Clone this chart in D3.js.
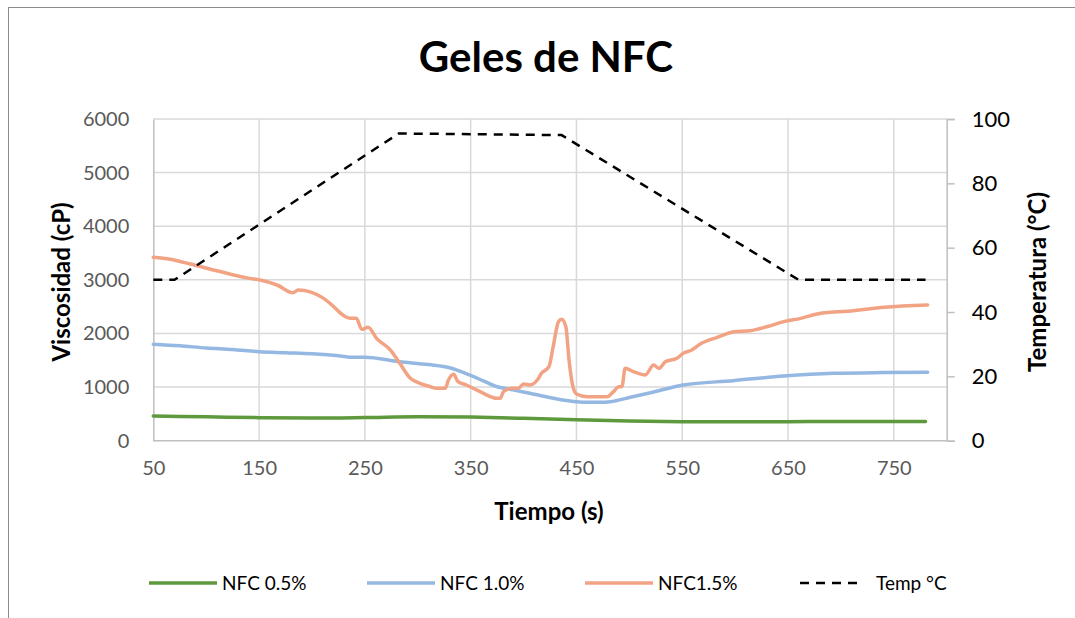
<!DOCTYPE html>
<html>
<head>
<meta charset="utf-8">
<script src="https://cdn.jsdelivr.net/npm/d3@7"></script>
<style>
  body { margin: 0; background: #fff; }
  svg { display: block; font-family: Lato, 'Open Sans', sans-serif; }
</style>
</head>
<body>
<svg id="chart" width="1075" height="618"></svg>
<script>
// NFC 0.5%
var t05 = [50, 100, 150, 200, 250, 300, 350, 400, 450, 500, 550, 600, 650, 700, 750, 780];
var v05 = [460, 445, 430, 422, 432, 448, 440, 418, 390, 368, 355, 352, 355, 360, 360, 360];

// NFC 1.0%
var t10 = [50, 75, 100, 125, 150, 175, 200, 227, 236, 250, 283, 310, 331, 337, 356, 375, 390, 406, 437, 456, 472, 482, 501, 520, 551, 598, 646, 693, 740, 782];
var v10 = [1800, 1770, 1730, 1700, 1660, 1640, 1620, 1580, 1555, 1555, 1473, 1420, 1356, 1318, 1169, 1007, 950, 884, 759, 716, 716, 727, 810, 895, 1039, 1119, 1207, 1257, 1270, 1275];

// NFC1.5%
var t15 = [50, 66, 85, 110, 141, 151, 167, 182, 187, 211, 217, 236, 242, 247, 253, 261, 274, 283, 293, 302, 312, 318, 326, 329, 334, 338, 346, 359, 375, 378, 381, 389, 395, 400, 406, 413, 417, 424, 428, 433, 436, 440, 443, 446, 450, 460, 479, 485, 490, 493, 496, 504, 515, 523, 528, 534, 545, 551, 559, 567, 583, 599, 614, 630, 646, 662, 681, 709, 741, 782];
var v15 = [3420, 3383, 3295, 3170, 3028, 2997, 2904, 2760, 2810, 2655, 2562, 2283, 2283, 2077, 2115, 1910, 1692, 1443, 1164, 1070, 1007, 977, 977, 1132, 1238, 1100, 1039, 914, 790, 790, 914, 977, 977, 1057, 1039, 1132, 1257, 1380, 1753, 2220, 2264, 2126, 1505, 1070, 871, 821, 821, 914, 1007, 1007, 1350, 1287, 1225, 1412, 1350, 1473, 1537, 1630, 1692, 1803, 1928, 2033, 2052, 2126, 2220, 2282, 2376, 2419, 2488, 2531];

// Temp °C
var tTemp = [50, 70, 282, 436, 660, 780];
var vTemp = [50, 50, 95.5, 95, 50, 50];

var xTicks = [50, 150, 250, 350, 450, 550, 650, 750];
var yTicks = [0, 1000, 2000, 3000, 4000, 5000, 6000];
var y2Ticks = [0, 20, 40, 60, 80, 100];

var seriesNames = ['NFC 0.5%', 'NFC 1.0%', 'NFC1.5%', 'Temp °C'];
var seriesColours = ['#5e9a3d', '#95b8e2', '#f2a384', '#000000'];

function zip(ts, vs)
{
	var out = [];
	for (var i = 0; i < ts.length; i++)
	{
		out.push({t: ts[i], v: vs[i]});
	}
	return out;
}

var svg = d3.select('#chart');
var plotLeft = 153.3, plotRight = 946.7, plotTop = 119, plotBottom = 440.7;

var x = d3.scaleLinear().domain([50, 800]).range([plotLeft, plotRight]);
var y = d3.scaleLinear().domain([0, 6000]).range([plotBottom, plotTop]);
var y2 = d3.scaleLinear().domain([0, 100]).range([plotBottom, plotTop]);

// outer frame
svg.append('rect').attr('x', 8.5).attr('y', 7.5).attr('width', 1100).attr('height', 640)
	.attr('fill', 'none').attr('stroke', '#8c8c8c').attr('stroke-width', 1);

// gridlines
svg.append('g').selectAll('line').data(yTicks.slice(1)).enter().append('line')
	.attr('x1', plotLeft).attr('x2', plotRight)
	.attr('y1', d => y(d)).attr('y2', d => y(d))
	.attr('stroke', '#d9d9d9').attr('stroke-width', 1.5);
svg.append('g').selectAll('line').data(xTicks.slice(1)).enter().append('line')
	.attr('x1', d => x(d)).attr('x2', d => x(d))
	.attr('y1', plotTop).attr('y2', plotBottom)
	.attr('stroke', '#d9d9d9').attr('stroke-width', 1.5);

// axes
var xAxis = svg.append('g').attr('transform', 'translate(0,' + plotBottom + ')')
	.call(d3.axisBottom(x).tickValues(xTicks).tickSize(0).tickPadding(20));
var yAxis = svg.append('g').attr('transform', 'translate(' + plotLeft + ',0)')
	.call(d3.axisLeft(y).tickValues(yTicks).tickSize(0).tickPadding(24).tickFormat(d3.format('d')));
var y2Axis = svg.append('g').attr('transform', 'translate(' + plotRight + ',0)')
	.call(d3.axisRight(y2).tickValues(y2Ticks).tickSize(8).tickPadding(17));

[xAxis, yAxis, y2Axis].forEach(a => {
	a.select('.domain').attr('stroke', '#bfbfbf').attr('stroke-width', 1.5);
	a.selectAll('line').attr('stroke', '#bfbfbf').attr('stroke-width', 1.5);
	a.selectAll('text').attr('font-family', 'Lato, sans-serif');
});
xAxis.select('.domain').attr('d', 'M' + plotLeft + ',0H' + plotRight);
xAxis.selectAll('text').attr('font-size', 20).attr('fill', '#595959');
yAxis.selectAll('text').attr('font-size', 20).attr('fill', '#595959');
y2Axis.selectAll('text').attr('font-size', 22).attr('fill', '#000');

// series
var line = d3.line().x(d => x(d.t)).y(d => y(d.v)).curve(d3.curveMonotoneX);
var tempLine = d3.line().x(d => x(d.t)).y(d => y2(d.v));

var lines = [zip(t05, v05), zip(t10, v10), zip(t15, v15)];
var plot = svg.append('g');
plot.selectAll('path.series').data(lines).enter().append('path')
	.attr('class', 'series')
	.attr('d', line)
	.attr('fill', 'none')
	.attr('stroke', (d, i) => seriesColours[i])
	.attr('stroke-width', 3.5)
	.attr('stroke-linejoin', 'round')
	.attr('stroke-linecap', 'round');
plot.append('path')
	.attr('d', tempLine(zip(tTemp, vTemp)))
	.attr('fill', 'none')
	.attr('stroke', '#000')
	.attr('stroke-width', 2.5)
	.attr('stroke-dasharray', '9,7');

// title and axis titles
svg.append('text').attr('x', 546).attr('y', 72).attr('text-anchor', 'middle')
	.attr('font-size', 42).attr('font-weight', 'bold').text('Geles de NFC');
svg.append('text').attr('transform', 'translate(70,282) rotate(-90)').attr('text-anchor', 'middle')
	.attr('font-size', 24).attr('font-weight', 'bold').text('Viscosidad (cP)');
svg.append('text').attr('transform', 'translate(1046,282) rotate(-90)').attr('text-anchor', 'middle')
	.attr('font-size', 24).attr('font-weight', 'bold').text('Temperatura (°C)');
svg.append('text').attr('x', 549).attr('y', 520).attr('text-anchor', 'middle')
	.attr('font-size', 24).attr('font-weight', 'bold').text('Tiempo (s)');

// legend
var legendX = [149, 367, 585, 800];
var legend = svg.append('g').selectAll('g').data(seriesNames).enter().append('g')
	.attr('transform', (d, i) => 'translate(' + legendX[i] + ',583)');
legend.append('line')
	.attr('x1', 0).attr('x2', (d, i) => i == 3 ? 62 : 68)
	.attr('y1', 0).attr('y2', 0)
	.attr('stroke', (d, i) => seriesColours[i])
	.attr('stroke-width', (d, i) => i == 3 ? 2.5 : 3.5)
	.attr('stroke-dasharray', (d, i) => i == 3 ? '9,7' : null);
legend.append('text')
	.attr('x', (d, i) => i == 3 ? 76 : 73).attr('y', 7)
	.attr('font-size', 19).attr('fill', '#000')
	.text(d => d);
</script>
</body>
</html>
